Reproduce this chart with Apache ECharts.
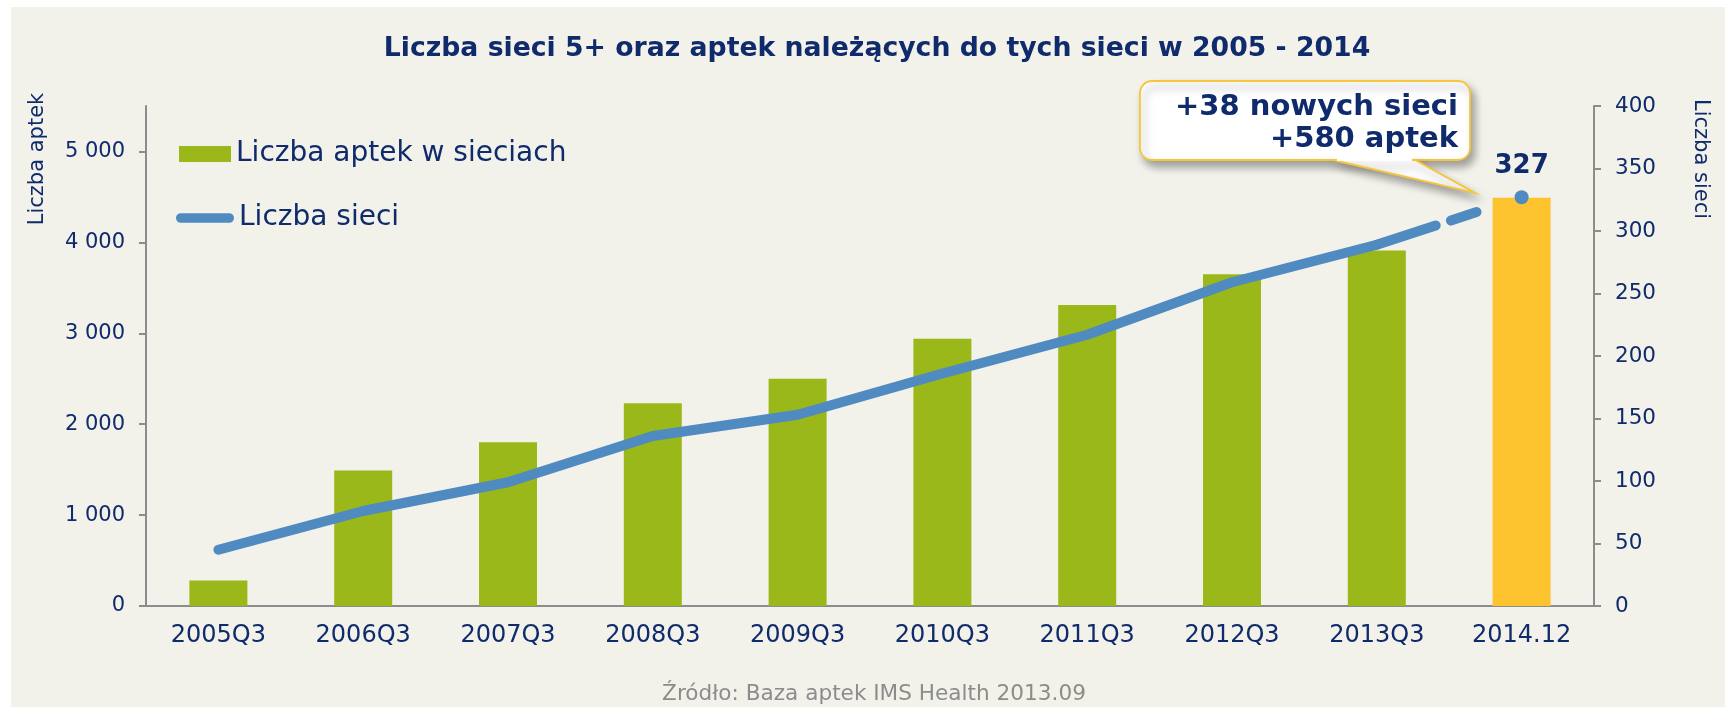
<!DOCTYPE html>
<html>
<head>
<meta charset="utf-8">
<script src="https://cdn.jsdelivr.net/npm/echarts@6/dist/echarts.min.js"></script>
<style>
  html, body { margin: 0; padding: 0; background: #fff; }
  #bg { position: absolute; left: 11px; top: 7px; width: 1714px; height: 700px; background: #f2f1ea; }
  #chart { position: absolute; left: 0; top: 0; width: 1725px; height: 707px; }
</style>
</head>
<body>
<div id="bg"></div>
<div id="chart"></div>
<script>
// values
const categories = ['2005Q3', '2006Q3', '2007Q3', '2008Q3', '2009Q3', '2010Q3', '2011Q3', '2012Q3', '2013Q3', '2014.12'];
const pharmacies = [280, 1490, 1800, 2230, 2500, 2940, 3310, 3650, 3910, 4490];
const chains = [45, 76, 99, 136, 153, 186, 217, 259, 289, 327];
const leftTicks = [0, 1000, 2000, 3000, 4000, 5000];

const NAVY = '#0f2b6b';
const GREEN = '#9bb81a';
const YELLOW = '#fdc42f';
const BLUE = '#4f8ac1';
const AXIS = '#8c8c8c';
const FONT = 'DejaVu Sans';

const last = categories.length - 1;

// bars: last one highlighted
const barData = pharmacies.map((v, i) => (i === last ? { value: v, itemStyle: { color: YELLOW } } : v));
// solid line up to the last quarter, dashed link to the forecast point
const solidData = chains.map((v, i) => (i < last ? v : '-'));
const dashData = chains.map((v, i) => (i >= last - 1 ? v : '-'));

const chart = echarts.init(document.getElementById('chart'), null, { renderer: 'canvas' });

const calloutShadow = { shadowBlur: 8, shadowColor: 'rgba(0,0,0,0.35)', shadowOffsetX: 4, shadowOffsetY: 6 };

const option = {
  animation: false,
  textStyle: { fontFamily: FONT },
  title: {
    text: 'Liczba sieci 5+ oraz aptek należących do tych sieci w 2005 - 2014',
    left: 872,
    textAlign: 'center',
    top: 31,
    textStyle: { fontFamily: FONT, fontSize: 26.7, fontWeight: 'bold', color: NAVY }
  },
  legend: [
    {
      data: [{ name: 'Liczba aptek w sieciach', icon: 'rect' }],
      left: 179, top: 140, padding: 0,
      itemWidth: 52, itemHeight: 16,
      textStyle: { fontFamily: FONT, fontSize: 28, color: NAVY }
    },
    {
      data: [{ name: 'Liczba sieci', icon: 'path://M5,0L55,0A5,5,0,0,1,55,10L5,10A5,5,0,0,1,5,0Z' }],
      left: 176, top: 204, padding: 0,
      itemWidth: 58, itemHeight: 10,
      textStyle: { fontFamily: FONT, fontSize: 28, color: NAVY }
    }
  ],
  grid: { left: 146, right: 131, top: 106, bottom: 101, containLabel: false },
  xAxis: {
    type: 'category',
    data: categories,
    axisLine: { lineStyle: { color: AXIS, width: 2 } },
    axisTick: { length: 8, lineStyle: { color: AXIS, width: 2 } },
    axisLabel: { color: NAVY, fontSize: 24, margin: 18, fontFamily: FONT }
  },
  yAxis: [
    {
      type: 'value', min: 0, max: 5500,
      axisLine: { show: true, lineStyle: { color: AXIS, width: 2 } },
      axisTick: { show: true, length: 7, customValues: leftTicks, lineStyle: { color: AXIS, width: 2 } },
      axisLabel: {
        customValues: leftTicks,
        color: NAVY, fontSize: 21, margin: 21, fontFamily: FONT,
        formatter: v => (v === 0 ? '0' : (v / 1000) + ' 000')
      },
      splitLine: { show: false }
    },
    {
      type: 'value', min: 0, max: 400, interval: 50, position: 'right',
      axisLine: { show: true, lineStyle: { color: AXIS, width: 2 } },
      axisTick: { show: true, length: 7, lineStyle: { color: AXIS, width: 2 } },
      axisLabel: { color: NAVY, fontSize: 21.5, margin: 21, fontFamily: FONT },
      splitLine: { show: false }
    }
  ],
  series: [
    {
      name: 'Liczba aptek w sieciach',
      type: 'bar',
      barWidth: 58,
      data: barData,
      itemStyle: { color: GREEN }
    },
    {
      name: 'Liczba sieci',
      type: 'line',
      yAxisIndex: 1,
      data: solidData,
      symbol: 'none',
      z: 5,
      itemStyle: { color: BLUE },
      lineStyle: { color: BLUE, width: 10, cap: 'round', join: 'round' }
    },
    {
      name: 'prognoza',
      type: 'line',
      yAxisIndex: 1,
      data: dashData,
      symbol: 'circle',
      symbolSize: (v, p) => (p.dataIndex === last ? 14 : 1),
      showAllSymbol: true,
      z: 5,
      itemStyle: { color: BLUE },
      lineStyle: { color: BLUE, width: 10, cap: 'round', type: [62, 16, 27, 300] },
      label: {
        show: true,
        position: 'top',
        distance: 11,
        color: NAVY,
        fontSize: 26,
        fontWeight: 'bold',
        fontFamily: FONT,
        formatter: p => (p.dataIndex === last ? String(p.value) : '')
      }
    }
  ],
  graphic: [
    {
      type: 'text', x: 38, y: 159, rotation: Math.PI / 2,
      style: { text: 'Liczba aptek', textAlign: 'center', textVerticalAlign: 'middle', font: '21px "DejaVu Sans"', fill: NAVY }
    },
    {
      type: 'text', x: 1700, y: 159, rotation: -Math.PI / 2,
      style: { text: 'Liczba sieci', textAlign: 'center', textVerticalAlign: 'middle', font: '21px "DejaVu Sans"', fill: NAVY }
    },
    {
      type: 'text', x: 874, y: 694,
      style: { text: 'Źródło: Baza aptek IMS Health 2013.09', textAlign: 'center', textVerticalAlign: 'middle', font: '21.6px "DejaVu Sans"', fill: '#8c8c8c' }
    },
    // callout: rounded box, tail, and a patch hiding the box border under the tail
    {
      type: 'rect', z: 20,
      shape: { x: 1140, y: 81, width: 330, height: 79, r: 12 },
      style: Object.assign({ fill: '#ffffff', stroke: '#f5c63c', lineWidth: 1.8 }, calloutShadow)
    },
    {
      type: 'polygon', z: 21,
      shape: { points: [[1333, 160], [1475, 193], [1415, 160]] },
      style: Object.assign({ fill: '#ffffff', stroke: '#f5c63c', lineWidth: 1.8 }, calloutShadow)
    },
    {
      type: 'rect', z: 22,
      shape: { x: 1337, y: 155, width: 75, height: 6 },
      style: { fill: '#ffffff' }
    },
    {
      type: 'text', z: 23, x: 1458, y: 123,
      style: {
        text: '+38 nowych sieci\n+580 aptek', textAlign: 'right', textVerticalAlign: 'middle',
        font: 'bold 29px "DejaVu Sans"', lineHeight: 32, fill: NAVY
      }
    }
  ]
};

chart.setOption(option);
</script>
</body>
</html>
